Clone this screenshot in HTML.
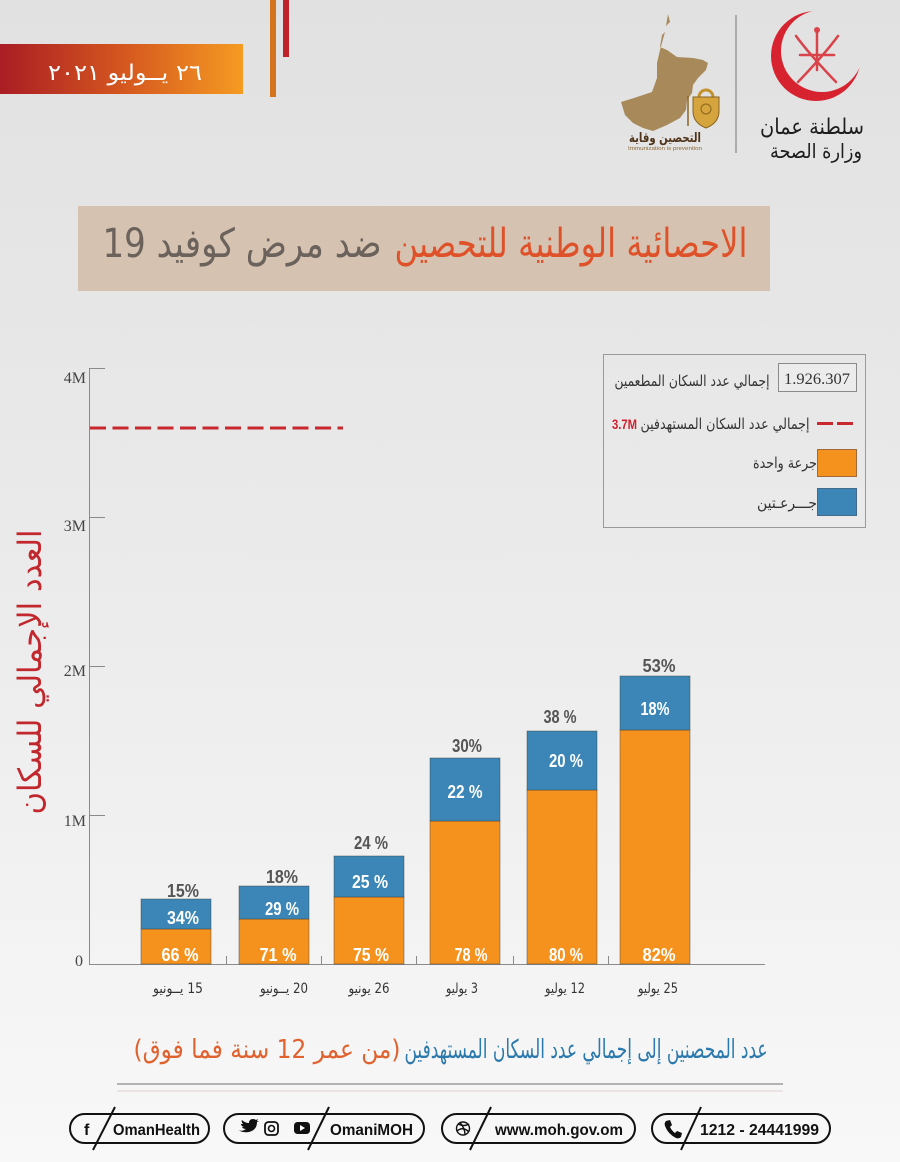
<!DOCTYPE html>
<html>
<head>
<meta charset="utf-8">
<style>
html,body{margin:0;padding:0;width:900px;height:1162px;overflow:hidden;background:#ececec;}
svg{display:block;}
.ar{font-family:"DejaVu Sans",sans-serif;}
.lat{font-family:"Liberation Sans",sans-serif;}
.ser{font-family:"Liberation Serif",serif;}
.rtl{direction:rtl;unicode-bidi:embed;}
</style>
</head>
<body>
<svg width="900" height="1162" viewBox="0 0 900 1162" xmlns="http://www.w3.org/2000/svg">
<defs>
  <linearGradient id="bg" x1="0" y1="0" x2="0" y2="1">
    <stop offset="0" stop-color="#e1e1e1"/>
    <stop offset="0.5" stop-color="#ebebeb"/>
    <stop offset="1" stop-color="#f8f8f8"/>
  </linearGradient>
  <linearGradient id="date" x1="0" y1="0" x2="1" y2="0">
    <stop offset="0" stop-color="#a91d24"/>
    <stop offset="0.5" stop-color="#d4561f"/>
    <stop offset="1" stop-color="#f59b22"/>
  </linearGradient>
  <mask id="cres">
    <rect x="760" y="0" width="120" height="120" fill="black"/>
    <circle cx="816" cy="56" r="45" fill="white"/>
    <circle cx="822" cy="51" r="41" fill="black"/>
  </mask>
</defs>

<!-- background -->
<rect x="0" y="0" width="900" height="1162" fill="url(#bg)"/>

<!-- header: date banner -->
<rect x="0" y="44" width="243" height="50" fill="url(#date)"/>
<text class="ar rtl" x="125" y="80" font-size="22" fill="#ffffff" text-anchor="middle" textLength="154" lengthAdjust="spacingAndGlyphs">٢٦ يــوليو ٢٠٢١</text>
<rect x="270" y="0" width="6" height="97" fill="#d5741f"/>
<rect x="283" y="0" width="6" height="57" fill="#c0222a"/>

<!-- Oman map logo -->
<polygon points="668,14 670,22 666,26" fill="#a8895a"/>
<polygon points="665,32 662,35 660,47 667,50 677,57 693,58 703,60 708,63 706,70 698,78 693,85 692,93 687,100 686,110 680,118 667,125 653,131 643,128 633,123 625,115 621,102 637,97 652,92 657,78 657,63 660,50" fill="#a8895a"/>
<path d="M699,97 a7,7 0 0 1 14,0" fill="none" stroke="#c3922e" stroke-width="3"/>
<path d="M693,97 h26 v14 q0,12 -13,17 q-13,-5 -13,-17 z" fill="#d6a43c" stroke="#8a6420" stroke-width="1"/>
<circle cx="706" cy="109" r="5" fill="none" stroke="#8a6420" stroke-width="1"/>
<line x1="688" y1="96" x2="688" y2="126" stroke="#8a6420" stroke-width="1.5"/>
<text class="ar rtl" x="665" y="142" font-size="13" font-weight="bold" fill="#4e3319" text-anchor="middle" textLength="72" lengthAdjust="spacingAndGlyphs">التحصين وقاية</text>
<text class="lat" x="665" y="150" font-size="5" fill="#8a6a3a" text-anchor="middle" textLength="74" lengthAdjust="spacingAndGlyphs">Immunization is prevention</text>

<line x1="736" y1="15" x2="736" y2="153" stroke="#9a9a9a" stroke-width="1.5"/>

<!-- MOH crescent logo -->
<rect x="760" y="0" width="120" height="120" fill="#d6232f" mask="url(#cres)"/>
<g stroke="#d9434a" stroke-width="2.5" fill="none" stroke-linecap="round">
  <path d="M796,36 Q810,55 836,82"/>
  <path d="M838,36 Q824,55 798,82"/>
  <line x1="817" y1="30" x2="817" y2="70"/>
  <line x1="800" y1="55" x2="834" y2="55"/>
</g>
<circle cx="817" cy="30" r="3" fill="#d9434a"/>
<text class="ar rtl" x="812" y="134" font-size="22" fill="#1d1d1d" text-anchor="middle" textLength="104" lengthAdjust="spacingAndGlyphs">سلطنة عمان</text>
<text class="ar rtl" x="816" y="158" font-size="20" fill="#1d1d1d" text-anchor="middle" textLength="92" lengthAdjust="spacingAndGlyphs">وزارة الصحة</text>

<!-- title -->
<rect x="78" y="206" width="692" height="85" fill="#d5c2b1"/>
<text class="ar rtl" x="571" y="257" font-size="40" fill="#df5129" text-anchor="middle" textLength="353" lengthAdjust="spacingAndGlyphs">الاحصائية الوطنية للتحصين</text>
<text class="ar rtl" x="242" y="257" font-size="40" fill="#6b625c" text-anchor="middle" textLength="279" lengthAdjust="spacingAndGlyphs">ضد مرض كوفيد 19</text>

<!-- chart axes -->
<line x1="89.5" y1="368" x2="89.5" y2="964" stroke="#8a8a8a" stroke-width="1"/>
<line x1="89" y1="964.5" x2="765" y2="964.5" stroke="#8a8a8a" stroke-width="1"/>
<g stroke="#8a8a8a" stroke-width="1">
  <line x1="89" y1="368.5" x2="105" y2="368.5"/>
  <line x1="89" y1="517.5" x2="105" y2="517.5"/>
  <line x1="89" y1="666.5" x2="105" y2="666.5"/>
  <line x1="89" y1="815.5" x2="105" y2="815.5"/>
  <line x1="226.5" y1="956" x2="226.5" y2="964"/>
  <line x1="321.5" y1="956" x2="321.5" y2="964"/>
  <line x1="416.5" y1="956" x2="416.5" y2="964"/>
  <line x1="513.5" y1="956" x2="513.5" y2="964"/>
  <line x1="608.5" y1="956" x2="608.5" y2="964"/>
</g>
<g class="ser" font-size="16" fill="#444" text-anchor="end">
  <text x="86" y="383">4M</text>
  <text x="86" y="531">3M</text>
  <text x="86" y="676">2M</text>
  <text x="86" y="826">1M</text>
  <text x="83" y="966">0</text>
</g>

<!-- y axis title -->
<text class="ar rtl" transform="translate(41,672) rotate(-90)" x="0" y="0" font-size="32" fill="#c1272d" text-anchor="middle" textLength="285" lengthAdjust="spacingAndGlyphs">العدد الإجمالي للسكان</text>

<!-- target dashed line -->
<line x1="90" y1="428" x2="343" y2="428" stroke="#c8282e" stroke-width="3" stroke-dasharray="16 6.5"/>

<!-- bars -->
<g stroke="rgba(60,60,60,0.55)" stroke-width="0.8">
  <rect x="141" y="929" width="70" height="35" fill="#f5921e"/>
  <rect x="141" y="899" width="70" height="30" fill="#3b86b6"/>
  <rect x="239" y="919" width="70" height="45" fill="#f5921e"/>
  <rect x="239" y="886" width="70" height="33" fill="#3b86b6"/>
  <rect x="334" y="897" width="70" height="67" fill="#f5921e"/>
  <rect x="334" y="856" width="70" height="41" fill="#3b86b6"/>
  <rect x="430" y="821" width="70" height="143" fill="#f5921e"/>
  <rect x="430" y="758" width="70" height="63" fill="#3b86b6"/>
  <rect x="527" y="790" width="70" height="174" fill="#f5921e"/>
  <rect x="527" y="731" width="70" height="59" fill="#3b86b6"/>
  <rect x="620" y="730" width="70" height="234" fill="#f5921e"/>
  <rect x="620" y="676" width="70" height="54" fill="#3b86b6"/>
</g>

<!-- bar labels -->
<g class="lat" font-size="18" font-weight="bold" text-anchor="middle">
  <g fill="#555">
    <text x="183" y="897" textLength="32" lengthAdjust="spacingAndGlyphs">15%</text>
    <text x="282" y="883" textLength="32" lengthAdjust="spacingAndGlyphs">18%</text>
    <text x="371" y="849" textLength="34" lengthAdjust="spacingAndGlyphs">24 %</text>
    <text x="467" y="752" textLength="30" lengthAdjust="spacingAndGlyphs">30%</text>
    <text x="560" y="723" textLength="33" lengthAdjust="spacingAndGlyphs">38 %</text>
    <text x="659" y="672" textLength="33" lengthAdjust="spacingAndGlyphs">53%</text>
  </g>
  <g fill="#ffffff">
    <text x="183" y="924" textLength="32" lengthAdjust="spacingAndGlyphs">34%</text>
    <text x="282" y="915" textLength="34" lengthAdjust="spacingAndGlyphs">29 %</text>
    <text x="370" y="888" textLength="36" lengthAdjust="spacingAndGlyphs">25 %</text>
    <text x="465" y="798" textLength="35" lengthAdjust="spacingAndGlyphs">22 %</text>
    <text x="566" y="767" textLength="34" lengthAdjust="spacingAndGlyphs">20 %</text>
    <text x="655" y="715" textLength="29" lengthAdjust="spacingAndGlyphs">18%</text>
    <text x="180" y="961" textLength="37" lengthAdjust="spacingAndGlyphs">66 %</text>
    <text x="278" y="961" textLength="37" lengthAdjust="spacingAndGlyphs">71 %</text>
    <text x="371" y="961" textLength="36" lengthAdjust="spacingAndGlyphs">75 %</text>
    <text x="471" y="961" textLength="33" lengthAdjust="spacingAndGlyphs">78 %</text>
    <text x="566" y="961" textLength="34" lengthAdjust="spacingAndGlyphs">80 %</text>
    <text x="659" y="961" textLength="33" lengthAdjust="spacingAndGlyphs">82%</text>
  </g>
</g>

<!-- x labels -->
<g class="ar rtl" font-size="14" fill="#333" text-anchor="middle">
  <text x="178" y="993" textLength="50" lengthAdjust="spacingAndGlyphs">15 يــونيو</text>
  <text x="284" y="993" textLength="48" lengthAdjust="spacingAndGlyphs">20 يــونيو</text>
  <text x="369" y="993" textLength="41" lengthAdjust="spacingAndGlyphs">26 يونيو</text>
  <text x="462" y="993" textLength="32" lengthAdjust="spacingAndGlyphs">3 يوليو</text>
  <text x="565" y="993" textLength="40" lengthAdjust="spacingAndGlyphs">12 يوليو</text>
  <text x="658" y="993" textLength="40" lengthAdjust="spacingAndGlyphs">25 يوليو</text>
</g>

<!-- legend -->
<rect x="603.5" y="354.5" width="262" height="173" fill="none" stroke="#9a9a9a" stroke-width="1"/>
<rect x="778.5" y="363.5" width="78" height="28" fill="#ececec" stroke="#8a8a8a" stroke-width="1"/>
<text class="ser" x="817" y="384" font-size="16" fill="#333" text-anchor="middle" textLength="66" lengthAdjust="spacingAndGlyphs">1.926.307</text>
<text class="ar rtl" x="692" y="386" font-size="15" fill="#333" text-anchor="middle" textLength="155" lengthAdjust="spacingAndGlyphs">إجمالي عدد السكان المطعمين</text>
<rect x="817" y="422" width="16" height="3" fill="#c8282e"/>
<rect x="837" y="422" width="16" height="3" fill="#c8282e"/>
<text class="ar rtl" x="725" y="429" font-size="15" fill="#333" text-anchor="middle" textLength="169" lengthAdjust="spacingAndGlyphs">إجمالي عدد السكان المستهدفين</text>
<text class="lat" x="612" y="429" font-size="14" font-weight="bold" fill="#d0202e" textLength="25" lengthAdjust="spacingAndGlyphs">3.7M</text>
<rect x="817.5" y="449.5" width="39" height="27" fill="#f5921e" stroke="#a06a3a" stroke-width="1"/>
<rect x="817.5" y="488.5" width="39" height="27" fill="#3b86b6" stroke="#44698a" stroke-width="1"/>
<text class="ar rtl" x="785" y="468" font-size="15" fill="#333" text-anchor="middle" textLength="64" lengthAdjust="spacingAndGlyphs">جرعة واحدة</text>
<text class="ar rtl" x="787" y="508" font-size="15" fill="#333" text-anchor="middle" textLength="60" lengthAdjust="spacingAndGlyphs">جـــرعـتين</text>

<!-- caption -->
<text class="ar rtl" x="586" y="1058" font-size="26" fill="#2b79ad" text-anchor="middle" textLength="363" lengthAdjust="spacingAndGlyphs">عدد المحصنين إلى إجمالي عدد السكان المستهدفين</text>
<text class="ar rtl" x="267" y="1058" font-size="26" fill="#e0622f" text-anchor="middle" textLength="267" lengthAdjust="spacingAndGlyphs">(من عمر 12 سنة فما فوق)</text>

<!-- dividers -->
<line x1="117" y1="1084" x2="783" y2="1084" stroke="#b3b3b3" stroke-width="2"/>
<line x1="117" y1="1091" x2="783" y2="1091" stroke="#e2cfcf" stroke-width="1"/>

<!-- footer pills -->
<g fill="none" stroke="#111" stroke-width="2">
  <rect x="70" y="1114" width="139" height="29" rx="14.5"/>
  <rect x="224" y="1114" width="200" height="29" rx="14.5"/>
  <rect x="442" y="1114" width="193" height="29" rx="14.5"/>
  <rect x="652" y="1114" width="178" height="29" rx="14.5"/>
  <line x1="115" y1="1107" x2="93" y2="1150"/>
  <line x1="329" y1="1107" x2="308" y2="1150"/>
  <line x1="491" y1="1107" x2="470" y2="1150"/>
  <line x1="701" y1="1107" x2="681" y2="1150"/>
</g>
<g class="lat" font-size="16" font-weight="bold" fill="#111">
  <text x="84" y="1135">f</text>
  <text x="113" y="1135" textLength="87" lengthAdjust="spacingAndGlyphs">OmanHealth</text>
  <text x="330" y="1135" textLength="83" lengthAdjust="spacingAndGlyphs">OmaniMOH</text>
  <text x="495" y="1135" textLength="128" lengthAdjust="spacingAndGlyphs">www.moh.gov.om</text>
  <text x="700" y="1135" textLength="119" lengthAdjust="spacingAndGlyphs">1212 - 24441999</text>
</g>
<!-- twitter -->
<path d="M238,1130 q4,2 8,-1 q-3,0 -4,-2 q1,0 2,0 q-3,-1 -3,-3 q1,0 2,0 q-2,-2 -1,-4 q3,3 7,3 q0,-4 4,-4 q2,0 3,1 l2,-1 l-1,2 l2,0 l-2,1 q0,8 -8,10 q-6,1 -11,-2 z" fill="#111"/>
<!-- instagram -->
<rect x="265" y="1122" width="13" height="13" rx="3.5" fill="none" stroke="#111" stroke-width="1.8"/>
<circle cx="271.5" cy="1128.5" r="3" fill="none" stroke="#111" stroke-width="1.6"/>
<!-- youtube -->
<rect x="294" y="1122" width="16" height="12" rx="3.5" fill="#111"/>
<polygon points="300,1125 300,1131 305,1128" fill="#fff"/>
<!-- dribbble -->
<g fill="none" stroke="#111" stroke-width="1.4">
  <circle cx="463" cy="1128.5" r="6.5"/>
  <path d="M458,1124 q6,3 11,0"/>
  <path d="M457,1131 q6,-5 12,1"/>
  <path d="M460,1122.5 q5,6 5,12"/>
</g>
<!-- phone -->
<path d="M666,1121 l4,-1 l2,5 l-2,2 q2,4 5,6 l2,-2 l5,2 l-1,4 q-2,2 -5,1 q-8,-4 -11,-12 q-1,-3 1,-5 z" fill="#111"/>
</svg>
</body>
</html>
